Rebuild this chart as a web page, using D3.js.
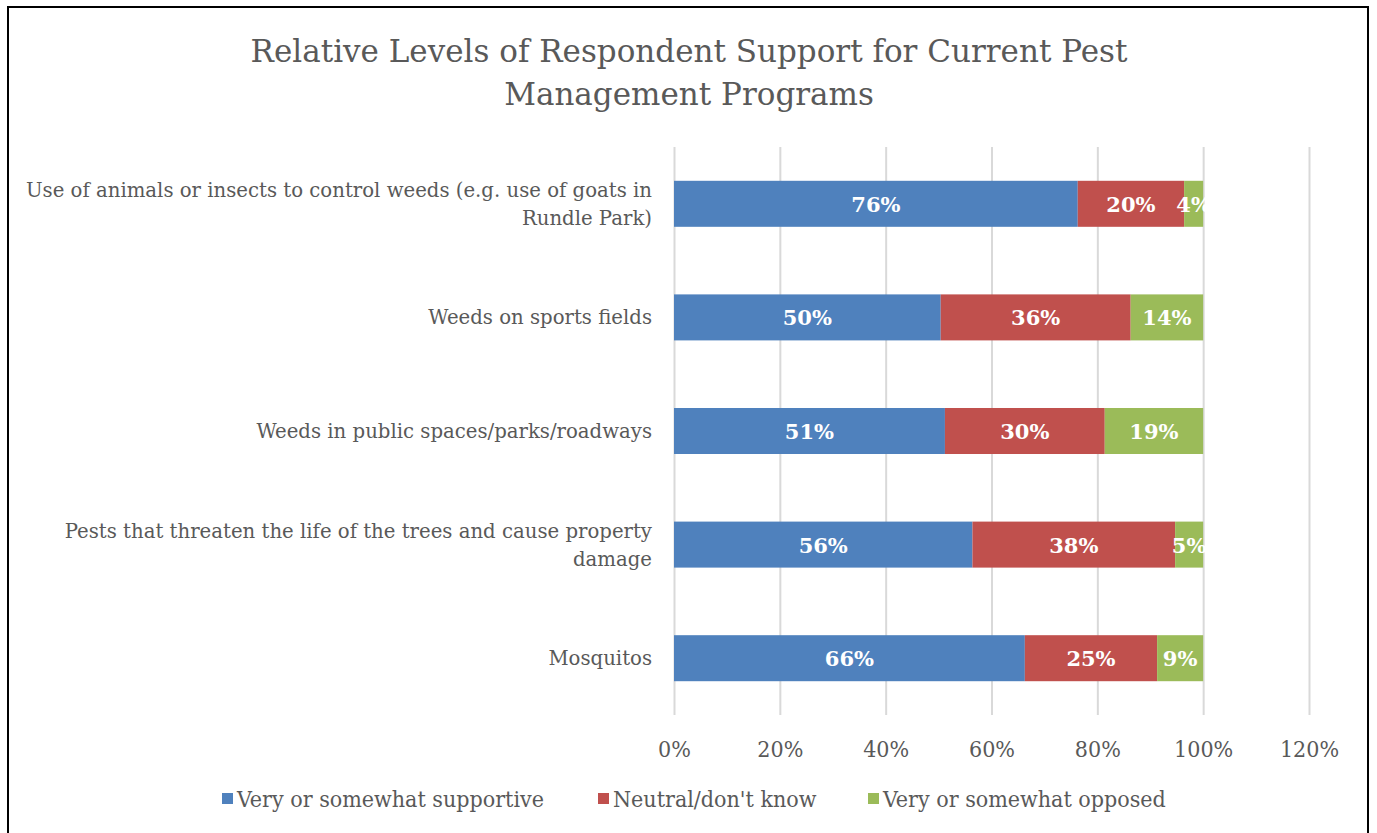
<!DOCTYPE html>
<html>
<head>
<meta charset="utf-8">
<script src="https://cdn.jsdelivr.net/npm/d3@7"></script>
<style>
  body { margin: 0; background: #fff; }
  svg text { font-family: "DejaVu Serif", "Liberation Serif", serif; }
</style>
</head>
<body>
<div class="chart"></div>
<script>
//data
var categories = [
    ["Use of animals or insects to control weeds (e.g. use of goats in", "Rundle Park)"],
    ["Weeds on sports fields"],
    ["Weeds in public spaces/parks/roadways"],
    ["Pests that threaten the life of the trees and cause property", "damage"],
    ["Mosquitos"]
];
var seriesNames = ["Very or somewhat supportive", "Neutral/don't know", "Very or somewhat opposed"];
var supportive = [76.3, 50.4, 51.2, 56.4, 66.3];
var neutral = [20.1, 35.9, 30.2, 38.3, 25.0];
var opposed = [3.6, 13.7, 18.6, 5.3, 8.7];
var tickValues = [0, 20, 40, 60, 80, 100, 120];
var colors = ["#4f81bd", "#c0504d", "#9bbb59"];

var width = 1377, height = 833;
var svg = d3.select(".chart").append("svg")
    .attr("width", width)
    .attr("height", height);

//outer frame
svg.append("rect")
    .attr("x", 8).attr("y", 7)
    .attr("width", 1360).attr("height", 840)
    .attr("fill", "none")
    .attr("stroke", "#000")
    .attr("stroke-width", 2);

var x = d3.scaleLinear().domain([0, 120]).range([674, 1309]);
var y = d3.scaleBand().domain(d3.range(categories.length)).range([147, 715]).paddingInner(0.595).paddingOuter(0.2975);

//title
svg.append("text")
    .attr("x", 689).attr("y", 62)
    .attr("text-anchor", "middle")
    .attr("fill", "#595959")
    .style("font-size", "31px")
    .text("Relative Levels of Respondent Support for Current Pest");
svg.append("text")
    .attr("x", 689).attr("y", 105)
    .attr("text-anchor", "middle")
    .attr("fill", "#595959")
    .style("font-size", "31px")
    .text("Management Programs");

//gridlines + tick labels
var xAxis = d3.axisBottom(x).tickValues(tickValues).tickSize(-(715 - 147)).tickFormat(function(d){ return d + "%"; });
var gx = svg.append("g").attr("transform", "translate(0,715)").call(xAxis);
gx.select(".domain").remove();
gx.selectAll(".tick line").attr("stroke", "#d9d9d9").attr("stroke-width", 2);
gx.selectAll(".tick text")
    .attr("y", 42)
    .attr("dy", null)
    .attr("fill", "#595959")
    .style("font-size", "23px")
    .style("font-family", "'DejaVu Serif Condensed', 'DejaVu Serif', serif");

//stack
var rows = categories.map(function(c, i){
    return { i: i, s0: supportive[i], s1: neutral[i], s2: opposed[i] };
});
var stack = d3.stack().keys(["s0", "s1", "s2"]);
var layers = stack(rows);

layers.forEach(function(layer, k){
    var g = svg.append("g");
    g.selectAll("rect")
        .data(layer)
        .enter()
        .append("rect")
        .attr("x", function(d){ return x(d[0]); })
        .attr("y", function(d){ return y(d.data.i); })
        .attr("width", function(d){ return x(d[1]) - x(d[0]); })
        .attr("height", y.bandwidth())
        .attr("fill", colors[k]);
    g.selectAll("text")
        .data(layer)
        .enter()
        .append("text")
        .attr("x", function(d){ return (x(d[0]) + x(d[1])) / 2; })
        .attr("y", function(d){ return y(d.data.i) + y.bandwidth() / 2 + 8; })
        .attr("text-anchor", "middle")
        .attr("fill", "#fff")
        .style("font-weight", "bold")
        .style("font-size", "21px")
        .text(function(d){ return Math.round(d[1] - d[0]) + "%"; });
});

//category labels
categories.forEach(function(lines, i){
    var cy = y(i) + y.bandwidth() / 2;
    var t = svg.append("text")
        .attr("text-anchor", "end")
        .attr("fill", "#595959")
        .style("font-size", "19.7px");
    var y0 = cy + 7 - (lines.length - 1) * 14;
    lines.forEach(function(l, j){
        t.append("tspan").attr("x", 652).attr("y", y0 + j * 28).text(l);
    });
});

//legend
var legendX = [222, 598, 868];
seriesNames.forEach(function(name, k){
    svg.append("rect")
        .attr("x", legendX[k]).attr("y", 793)
        .attr("width", 11).attr("height", 11)
        .attr("fill", colors[k]);
    svg.append("text")
        .attr("x", legendX[k] + 15).attr("y", 807)
        .attr("fill", "#595959")
        .style("font-size", "23px")
        .style("font-family", "'DejaVu Serif Condensed', 'DejaVu Serif', serif")
        .text(name);
});
</script>
</body>
</html>
